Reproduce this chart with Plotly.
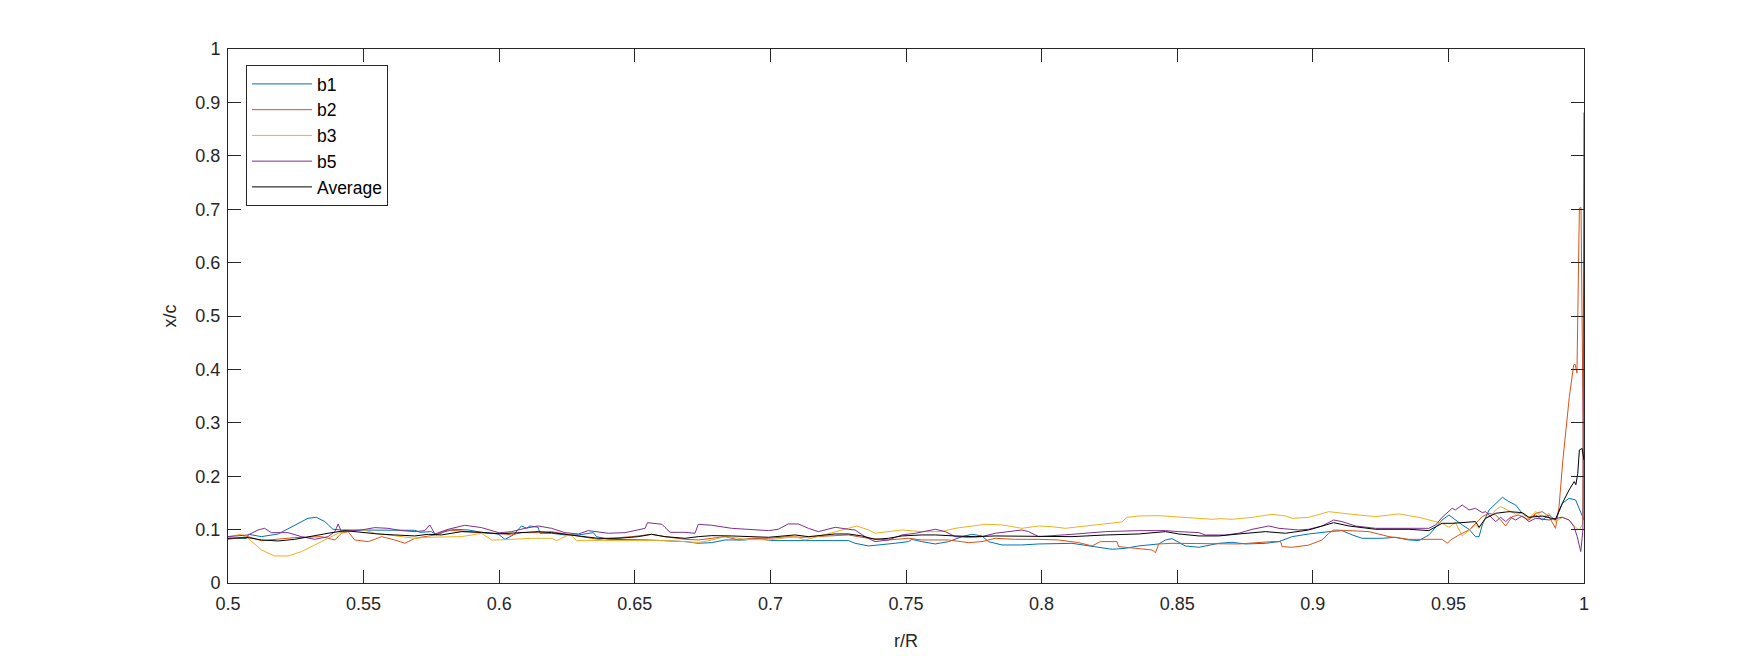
import plotly.graph_objects as go

# ---- data (r/R, x/c) ----
b1 = [(0.5,0.0837),(0.5068,0.0837),(0.5076,0.0912),(0.5123,0.0868),(0.5185,0.0918),(0.5246,0.1087),(0.5295,0.1212),
      (0.5326,0.123),(0.5357,0.115),(0.5387,0.1006),(0.5418,0.0993),(0.5689,0.0987),(0.5707,0.0949),(0.575,0.0962),
      (0.5769,0.09),(0.58,0.0962),(0.5836,0.1006),(0.5886,0.0993),(0.5935,0.0949),
      (0.5996,0.0918),(0.6021,0.0818),(0.6052,0.09),(0.6082,0.1068),(0.6101,0.1024),(0.6113,0.1068),(0.6144,0.1043),
      (0.615,0.0931),(0.6193,0.0931),(0.6242,0.09),(0.6292,0.09),(0.6322,0.0931),(0.6347,0.0943),(0.6359,0.0868),
      (0.6402,0.0818),(0.655,0.0806),(0.6685,0.0775),(0.6734,0.0744),(0.6784,0.0756),(0.6833,0.0806),(0.6907,0.0806),
      (0.6956,0.0837),(0.7,0.0794),(0.7288,0.0794),(0.7312,0.0744),(0.7362,0.0694),(0.7411,0.0712),(0.746,0.0744),
      (0.7509,0.0775),(0.7522,0.0818),(0.7558,0.0775),(0.7608,0.0731),(0.7657,0.0775),(0.7706,0.0868),(0.7743,0.0912),
      (0.778,0.0881),(0.7804,0.0775),(0.7854,0.0712),(0.7927,0.0712),
      (0.7989,0.0731),(0.8112,0.0743),(0.8186,0.0681),(0.826,0.0631),(0.8309,0.065),(0.8358,0.0694),(0.8432,0.0731),
      (0.8457,0.0806),(0.8481,0.0831),(0.8506,0.0756),(0.853,0.0694),(0.858,0.0669),(0.8653,0.0743),(0.8702,0.0762),
      (0.8752,0.0731),(0.8825,0.0743),(0.8875,0.0775),(0.8924,0.0868),
      (0.8985,0.0918),(0.9059,0.0962),(0.9108,0.0981),(0.9145,0.09),(0.9182,0.0837),(0.9256,0.0837),(0.9305,0.0856),
      (0.9354,0.0806),(0.9391,0.0794),(0.9428,0.09),(0.9477,0.118),(0.9502,0.1274),(0.9526,0.118),(0.9551,0.1087),
      (0.9576,0.1006),(0.96,0.0868),(0.9613,0.0868),(0.9625,0.1087),(0.965,0.1368),(0.9674,0.1492),(0.9699,0.1605),
      (0.9723,0.1524),(0.9748,0.1461),(0.9772,0.1305),(0.9797,0.1212),(0.9822,0.1274),(0.9846,0.118),(0.9871,0.1274),
      (0.9895,0.118),(0.992,0.1492),(0.9945,0.1586),(0.9969,0.1555),(0.9988,0.1336),(1.0,0.118)]

b2 = [(0.5,0.0818),(0.5074,0.0868),(0.5123,0.0793),(0.5246,0.085),(0.5344,0.0868),(0.5394,0.0806),(0.5418,0.0931),
      (0.5443,0.0962),(0.5467,0.0806),(0.5517,0.0775),(0.5541,0.0818),(0.5566,0.0868),(0.5615,0.0806),(0.5652,0.0744),
      (0.5689,0.0837),(0.5763,0.09),(0.5812,0.0993),(0.5886,0.0962),(0.5959,0.0931),
      (0.6,0.093),(0.6046,0.09),(0.6082,0.0943),(0.6144,0.0943),(0.6193,0.0962),(0.6242,0.0918),(0.6292,0.0868),
      (0.6341,0.0837),(0.6365,0.0818),(0.6427,0.0837),(0.6488,0.0868),(0.6562,0.0912),(0.6611,0.0868),(0.6685,0.0818),
      (0.6734,0.0806),(0.6784,0.0837),(0.6833,0.0868),(0.6882,0.0806),(0.6931,0.0837),
      (0.6993,0.0837),(0.7066,0.0868),(0.7116,0.0856),(0.7165,0.0868),(0.7239,0.09),(0.7288,0.09),(0.7337,0.0856),
      (0.7362,0.0837),(0.7435,0.0806),(0.7509,0.0837),(0.7558,0.0806),(0.7657,0.0806),(0.7731,0.0756),(0.778,0.0775),
      (0.7829,0.0837),(0.7903,0.0818),
      (0.7989,0.0818),(0.8063,0.0806),(0.8137,0.0756),(0.8186,0.0694),(0.8217,0.0775),(0.8278,0.0775),(0.8284,0.0681),
      (0.8358,0.065),(0.8407,0.0619),(0.842,0.0569),(0.8432,0.0731),(0.8481,0.0743),(0.8604,0.0731),(0.8727,0.0731),
      (0.885,0.0775),(0.8881,0.0775),(0.8887,0.0681),(0.8924,0.0669),
      (0.8985,0.071),(0.9034,0.0806),(0.9059,0.0931),(0.9077,0.0993),(0.9133,0.0981),(0.9207,0.0962),(0.9281,0.0868),
      (0.9354,0.0818),(0.9477,0.0818),(0.9496,0.0744),(0.9508,0.0806),(0.9539,0.09),(0.9576,0.0993),(0.96,0.1118),
      (0.9625,0.1243),(0.965,0.1305),(0.9674,0.1274),(0.9693,0.118),(0.9711,0.1068),(0.9735,0.1243),(0.976,0.1274),
      (0.9797,0.118),(0.9822,0.1305),(0.9846,0.1336),(0.9871,0.1243),(0.9895,0.1024),(0.9908,0.143),(0.9922,0.23),
      (0.9946,0.349),(0.9962,0.4085),(0.9967,0.41),(0.9974,0.393),(0.9983,0.702),(0.9989,0.703),(0.9995,0.35),
      (1.0,0.12)]

b3 = [(0.5,0.0868),(0.5049,0.0912),(0.5074,0.0837),(0.5123,0.0619),(0.5172,0.0506),(0.5221,0.0506),(0.5271,0.0588),
      (0.532,0.0712),(0.5369,0.0837),(0.5406,0.0931),(0.5431,0.0962),(0.5492,0.1006),(0.5541,0.0931),(0.559,0.09),
      (0.564,0.0856),(0.5689,0.0837),(0.5738,0.0856),(0.5787,0.0856),(0.5861,0.0868),(0.5935,0.0931),(0.5972,0.0806),
      (0.6,0.0806),(0.6119,0.0837),(0.6193,0.0837),(0.6212,0.0794),(0.6242,0.0868),(0.6261,0.0912),(0.6285,0.0794),
      (0.639,0.0794),(0.6611,0.0794),(0.6685,0.0775),(0.6734,0.0756),(0.6784,0.0806),(0.6833,0.0868),(0.6857,0.0856),
      (0.6907,0.0818),
      (0.6993,0.0806),(0.7091,0.0868),(0.7128,0.0806),(0.7239,0.0962),(0.7319,0.1068),(0.7362,0.0993),(0.7386,0.0931),
      (0.7435,0.0962),(0.7485,0.0993),(0.7558,0.0962),(0.7632,0.0962),(0.7681,0.1024),(0.7731,0.1055),(0.7792,0.1099),
      (0.7854,0.1087),(0.7927,0.1024),
      (0.7989,0.1068),(0.8038,0.1055),(0.8087,0.1024),(0.8161,0.1068),(0.8235,0.1118),(0.8296,0.1143),(0.8315,0.123),
      (0.8358,0.1255),(0.8432,0.1261),(0.853,0.1224),(0.8629,0.1193),(0.8659,0.1205),(0.8702,0.1193),(0.8776,0.123),
      (0.885,0.1286),(0.8899,0.1255),(0.8924,0.1211),
      (0.8985,0.123),(0.9059,0.1336),(0.9133,0.1293),(0.9231,0.1243),(0.9317,0.1293),(0.9391,0.123),(0.9453,0.1149),
      (0.9477,0.1118),(0.9502,0.1043),(0.9526,0.1131),(0.9551,0.0881),(0.9576,0.0993),(0.96,0.1087),(0.9613,0.1024),
      (0.9637,0.1212),(0.9656,0.1255),(0.9674,0.1368),(0.9693,0.143),(0.9723,0.1355),(0.9748,0.1293),(0.9772,0.1305),
      (0.9797,0.1212),(0.9822,0.1336),(0.9846,0.123),(0.9871,0.1305),(0.9895,0.1149),(0.992,0.123),(0.9945,0.118),
      (0.9969,0.1043),(0.9982,0.0993),(0.9995,0.11),(1.0,0.449)]

b5 = [(0.5,0.0868),(0.5074,0.09),(0.5111,0.0993),(0.5135,0.1024),(0.516,0.0943),(0.5221,0.0943),(0.5271,0.0868),
      (0.532,0.0818),(0.5369,0.0868),(0.5394,0.0962),(0.5406,0.1106),(0.5418,0.0962),(0.5492,0.0993),(0.5541,0.1037),
      (0.559,0.1024),(0.564,0.0981),(0.5689,0.0962),(0.5726,0.0981),(0.5744,0.1087),(0.5763,0.0918),(0.5812,0.1006),
      (0.5873,0.1081),(0.5935,0.1037),
      (0.6,0.094),(0.6046,0.0962),(0.6095,0.1024),(0.6144,0.1068),(0.6193,0.1024),(0.6242,0.0943),(0.6292,0.0918),
      (0.6328,0.0981),(0.6365,0.0962),(0.6402,0.0931),(0.6464,0.0943),(0.6538,0.1024),(0.6547,0.113),(0.66,0.1099),
      (0.6611,0.1043),(0.663,0.0949),(0.6685,0.0949),(0.6722,0.0931),(0.6734,0.1099),(0.6784,0.1081),(0.6857,0.1024),
      (0.6931,0.1006),
      (0.6993,0.0981),(0.7029,0.1006),(0.7066,0.1106),(0.7103,0.1106),(0.714,0.1024),(0.7177,0.0962),(0.7214,0.1006),
      (0.7239,0.1043),(0.7288,0.1006),(0.7312,0.0993),(0.7349,0.0868),(0.7386,0.0775),(0.7435,0.0806),(0.7485,0.09),
      (0.7534,0.0931),(0.7571,0.0962),(0.7608,0.1006),(0.7645,0.0962),(0.7681,0.0868),(0.7731,0.0856),(0.778,0.0868),
      (0.7829,0.0931),(0.7878,0.0962),(0.7927,0.0993),(0.7952,0.0962),
      (0.7989,0.0868),(0.8112,0.0912),(0.8235,0.0962),(0.8358,0.0981),(0.8457,0.0981),(0.8506,0.0962),(0.858,0.0943),
      (0.8604,0.0899),(0.8678,0.0899),(0.8727,0.0931),(0.8776,0.1005),(0.8838,0.1068),(0.8875,0.1024),(0.8948,0.0993),
      (0.8985,0.1006),(0.9034,0.1068),(0.9077,0.118),(0.9108,0.1149),(0.9157,0.1068),(0.9231,0.1024),(0.9354,0.1024),
      (0.9428,0.1024),(0.9453,0.1087),(0.9477,0.123),(0.9514,0.1399),(0.9526,0.1368),(0.9551,0.1461),(0.9576,0.1368),
      (0.96,0.1399),(0.9625,0.1318),(0.9637,0.1336),(0.9656,0.123),(0.9674,0.1149),(0.9693,0.123),(0.9711,0.1149),
      (0.9729,0.123),(0.9748,0.118),(0.9772,0.1255),(0.9797,0.1149),(0.9822,0.1212),(0.9846,0.1193),(0.9871,0.118),
      (0.9895,0.1212),(0.992,0.123),(0.9945,0.118),(0.9963,0.1056),(0.9975,0.0868),(0.9988,0.0588),(0.9996,0.0993),
      (1.0,0.881)]

average = [(0.5,0.0837),(0.5074,0.085),(0.5123,0.0806),(0.5185,0.0787),(0.5246,0.0818),(0.5308,0.0881),(0.5369,0.0931),
           (0.5431,0.0981),(0.5492,0.0943),(0.5553,0.0918),(0.5615,0.09),(0.5689,0.0881),(0.5738,0.0912),(0.5787,0.09),
           (0.5861,0.0962),(0.5935,0.0949),
           (0.6,0.092),(0.607,0.0943),(0.6144,0.0962),(0.6193,0.0943),(0.6242,0.0918),(0.6292,0.0881),(0.6365,0.0837),
           (0.6439,0.0837),(0.6513,0.0868),(0.6562,0.0912),(0.6611,0.0868),(0.6685,0.0837),(0.6734,0.0868),(0.6784,0.0887),
           (0.6857,0.0881),(0.6931,0.0868),
           (0.6993,0.0856),(0.7091,0.09),(0.714,0.0868),(0.7239,0.0918),(0.7288,0.0918),(0.7337,0.0881),(0.7386,0.0818),
           (0.7435,0.0837),(0.7485,0.0881),(0.7558,0.09),(0.7608,0.09),(0.7681,0.0881),(0.7755,0.0868),(0.7829,0.0881),
           (0.7903,0.0881),
           (0.7989,0.0868),(0.8112,0.0868),(0.8235,0.0899),(0.8358,0.0918),(0.8457,0.0962),(0.8506,0.0918),(0.858,0.0881),
           (0.8653,0.0881),(0.8727,0.0918),(0.8825,0.0962),(0.8899,0.0931),
           (0.8985,0.0993),(0.9077,0.113),(0.9133,0.1068),(0.9231,0.1006),(0.9354,0.1006),(0.9428,0.0981),(0.9453,0.1056),
           (0.9477,0.1118),(0.9514,0.1118),(0.9576,0.1131),(0.96,0.1149),(0.9613,0.1043),(0.9637,0.1212),(0.9674,0.1305),
           (0.9723,0.1336),(0.9772,0.1318),(0.9797,0.123),(0.9846,0.1255),(0.9895,0.1193),(0.992,0.1492),(0.9945,0.1742),
           (0.9964,0.19),(0.997,0.184),(0.9977,0.205),(0.9983,0.249),(0.9993,0.252),(1.0,0.23)]

series_names = ["b1", "b2", "b3", "b5", "Average"]
series_data = [b1, b2, b3, b5, average]
series_colors = ["#0072BD", "#D95319", "#EDB120", "#7E2F8E", "#000000"]

x_ticks = [0.5, 0.55, 0.6, 0.65, 0.7, 0.75, 0.8, 0.85, 0.9, 0.95, 1]
x_ticklabels = ["0.5", "0.55", "0.6", "0.65", "0.7", "0.75", "0.8", "0.85", "0.9", "0.95", "1"]
y_ticks = [0, 0.1, 0.2, 0.3, 0.4, 0.5, 0.6, 0.7, 0.8, 0.9, 1]
y_ticklabels = ["0", "0.1", "0.2", "0.3", "0.4", "0.5", "0.6", "0.7", "0.8", "0.9", "1"]

FONT = "Liberation Sans, Arial, Helvetica, sans-serif"
AX = "#262626"

fig = go.Figure()
for name, data, col in zip(series_names, series_data, series_colors):
    fig.add_trace(go.Scatter(
        x=[p[0] for p in data], y=[p[1] for p in data], mode="lines", name=name,
        line=dict(color=col, width=1)))

axis_common = dict(showline=True, linecolor=AX, linewidth=1, mirror="ticks", ticks="inside",
                   ticklen=13, tickwidth=1, tickcolor=AX, showgrid=False, zeroline=False,
                   automargin=False,
                   tickfont=dict(family=FONT, size=18, color=AX))

fig.update_layout(
    width=1742, height=648,
    margin=dict(l=220, r=166, t=41, b=73, pad=0),
    paper_bgcolor="white", plot_bgcolor="white",
    font=dict(family=FONT, size=18, color=AX),
    xaxis=dict(range=[0.5, 1], tickvals=x_ticks, ticktext=x_ticklabels, ticklabelstandoff=4,
               title=dict(text="r/R", font=dict(family=FONT, size=18, color=AX), standoff=21),
               **axis_common),
    yaxis=dict(range=[0, 1], tickvals=y_ticks, ticktext=y_ticklabels, ticklabelstandoff=3,
               title=dict(text="x/c", font=dict(family=FONT, size=18, color=AX), standoff=14),
               **axis_common),
    legend=dict(x=0.0133, y=0.97, xanchor="left", yanchor="top",
                bgcolor="white", bordercolor=AX, borderwidth=1,
                font=dict(family=FONT, size=17.5, color="#000000"),
                itemwidth=60, tracegroupgap=0),
    showlegend=True,
)

fig.write_html("out.html")
